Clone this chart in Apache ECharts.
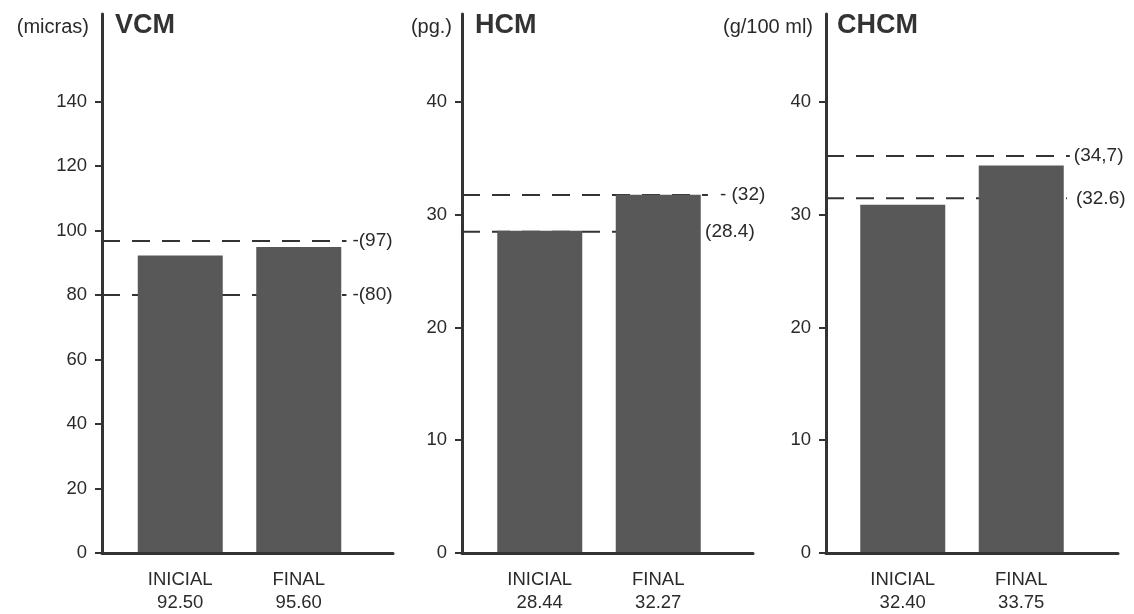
<!DOCTYPE html>
<html>
<head>
<meta charset="utf-8">
<script src="https://cdn.jsdelivr.net/npm/echarts@6/dist/echarts.min.js"></script>
<style>html,body{margin:0;padding:0;background:#fff}#c{width:1134px;height:614px}</style>
</head>
<body>
<div id="c"></div>
<script>
// ---- data ----
const categories = ['INICIAL', 'FINAL'];
const panelTitles = ['VCM', 'HCM', 'CHCM'];
const panelUnits = ['(micras)', '(pg.)', '(g/100 ml)'];

const vcmValues = [92.1, 94.7];
const vcmValueLabels = ['92.50', '95.60'];
const hcmValues = [28.55, 31.75];
const hcmValueLabels = ['28.44', '32.27'];
const chcmValues = [30.85, 34.35];
const chcmValueLabels = ['32.40', '33.75'];

const vcmRefValues = [96.7, 80];
const vcmRefLabels = ['-(97)', '-(80)'];
const hcmRefValues = [31.75, 28.5];
const hcmRefLabels = ['- (32)', '(28.4)'];
const chcmRefValues = [35.2, 31.45];
const chcmRefLabels = ['(34,7)', '(32.6)'];

const vcmTicks = [0, 20, 40, 60, 80, 100, 120, 140];
const hcmTicks = [0, 10, 20, 30, 40];
const chcmTicks = [0, 10, 20, 30, 40];

// ---- layout / style ----
const TXT = '#2a2a2a';
const AX = '#333';
const BAR = '#585858';
const FONT = 'Liberation Sans, Arial, sans-serif';
const TOP = 14, BOTTOM = 61;

const panels = [
  { values: vcmValues, vlabels: vcmValueLabels, refs: vcmRefValues, refLabels: vcmRefLabels, ticks: vcmTicks,
    step: 20, yMax: 167.1, frameLeft: 102, frameWidth: 291, barLeft: 121, barGridWidth: 237,
    refEnd: [0.84, 0.84], refDist: [6, 6], titleLeft: 115, unitRight: 1045 },
  { values: hcmValues, vlabels: hcmValueLabels, refs: hcmRefValues, refLabels: hcmRefLabels, ticks: hcmTicks,
    step: 10, yMax: 47.8, frameLeft: 462, frameWidth: 291, barLeft: 480.5, barGridWidth: 237,
    refEnd: [0.845, 0.825], refDist: [12, 3], titleLeft: 475, unitRight: 682 },
  { values: chcmValues, vlabels: chcmValueLabels, refs: chcmRefValues, refLabels: chcmRefLabels, ticks: chcmTicks,
    step: 10, yMax: 47.8, frameLeft: 826, frameWidth: 292, barLeft: 843.5, barGridWidth: 237,
    refEnd: [0.835, 0.825], refDist: [4, 9], titleLeft: 837, unitRight: 321 }
];

const grid = [], xAxis = [], yAxis = [], series = [], title = [];

panels.forEach((p, i) => {
  const gf = grid.length;
  grid.push({ left: p.frameLeft, width: p.frameWidth, top: TOP, bottom: BOTTOM });
  grid.push({ left: p.barLeft, width: p.barGridWidth, top: TOP, bottom: BOTTOM });
  const gb = gf + 1;

  xAxis.push({ type: 'value', gridIndex: gf, min: 0, max: 1,
    axisLine: { show: true, lineStyle: { color: AX, width: 3 } },
    axisTick: { show: false }, axisLabel: { show: false }, splitLine: { show: false } });
  xAxis.push({ type: 'category', gridIndex: gb, data: categories,
    axisLine: { show: false }, axisTick: { show: false }, splitLine: { show: false },
    axisLabel: { margin: 16, color: TXT, fontFamily: FONT, fontSize: 18.5, lineHeight: 23,
      formatter: (v, idx) => v + '\n' + p.vlabels[idx] } });

  yAxis.push({ type: 'value', gridIndex: gf, min: 0, max: p.yMax, interval: p.step,
    axisLine: { show: true, lineStyle: { color: AX, width: 3 } },
    axisTick: { show: true, length: 7, lineStyle: { color: AX, width: 2 }, customValues: p.ticks },
    axisLabel: { margin: 15, color: TXT, fontFamily: FONT, fontSize: 18.5, customValues: p.ticks },
    splitLine: { show: false } });
  yAxis.push({ type: 'value', gridIndex: gb, min: 0, max: p.yMax, show: false, splitLine: { show: false } });

  p.refs.forEach((v, j) => {
    series.push({ type: 'line', xAxisIndex: gf, yAxisIndex: gf, z: 1, silent: true,
      symbol: 'none', animation: false,
      lineStyle: { color: AX, width: 2, type: [18, 12] },
      data: [[0, v], [p.refEnd[j], v]],
      endLabel: { show: true, formatter: p.refLabels[j], distance: p.refDist[j],
        color: TXT, fontFamily: FONT, fontSize: 19 } });
  });

  series.push({ type: 'bar', xAxisIndex: gb, yAxisIndex: gb, z: 3, barWidth: 85,
    itemStyle: { color: BAR }, data: p.values, animation: false });

  title.push({ text: panelTitles[i], left: p.titleLeft, top: 12, padding: 0,
    textStyle: { fontFamily: FONT, fontSize: 27, fontWeight: 'bold', color: '#333' } });
  title.push({ text: panelUnits[i], right: p.unitRight, top: 17, padding: 0,
    textStyle: { fontFamily: FONT, fontSize: 20, fontWeight: 'normal', color: TXT } });
});

const chart = echarts.init(document.getElementById('c'));
chart.setOption({ backgroundColor: '#fff', animation: false, title, grid, xAxis, yAxis, series });
</script>
</body>
</html>
